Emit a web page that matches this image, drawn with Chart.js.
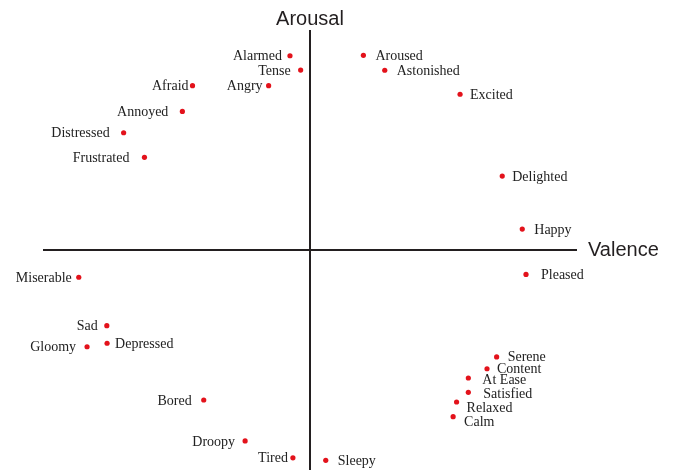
<!DOCTYPE html>
<html>
<head>
<meta charset="utf-8">
<script src="https://cdn.jsdelivr.net/npm/chart.js@4.4.1/dist/chart.umd.min.js"></script>
<style>
  html, body { margin: 0; padding: 0; background: #ffffff; }
  #wrap { width: 674px; height: 470px; position: relative; }
</style>
</head>
<body>
<div id="wrap"><canvas id="c" width="674" height="470"></canvas></div>
<script>
// ---- data ----
const emotions = ["Alarmed","Tense","Angry","Afraid","Annoyed","Distressed","Frustrated",
  "Aroused","Astonished","Excited","Delighted","Happy",
  "Miserable","Sad","Depressed","Gloomy","Bored","Droopy","Tired","Sleepy",
  "Pleased","Serene","Content","At Ease","Satisfied","Relaxed","Calm"];
const valence = [-0.075,-0.035,-0.155,-0.440,-0.478,-0.698,-0.620,
  0.200,0.280,0.562,0.720,0.795,
  -0.866,-0.761,-0.760,-0.835,-0.398,-0.243,-0.064,0.059,
  0.809,0.699,0.663,0.593,0.593,0.549,0.536];
const arousal = [0.883,0.818,0.747,0.747,0.630,0.533,0.421,
  0.885,0.817,0.708,0.336,0.095,
  -0.124,-0.344,-0.424,-0.440,-0.682,-0.868,-0.945,-0.956,
  -0.111,-0.486,-0.540,-0.582,-0.647,-0.691,-0.758];
const xTitle = "Valence";
const yTitle = "Arousal";

// ---- label placement (style) ----
const labelPlace = {
  "Alarmed":[-8,0],"Tense":[-10,0],"Angry":[-6,0],"Afraid":[-4,0],"Annoyed":[-14,0],
  "Distressed":[-14,0],"Frustrated":[-15,0],"Miserable":[-7,0],"Sad":[-9,0],
  "Gloomy":[-11,0],"Bored":[-12,0],"Droopy":[-10,0],"Tired":[-5,0],
  "Aroused":[12,0],"Astonished":[12,0],"Excited":[10,0],"Delighted":[10,0],"Happy":[12,0],
  "Pleased":[15,0],"Serene":[11,0],"Content":[10,0],"At Ease":[14,1],"Satisfied":[15,1],
  "Relaxed":[10,5],"Calm":[11,5],"Sleepy":[12,0],"Depressed":[8,0]
};

const points = emotions.map((e,i)=>({x: valence[i], y: arousal[i]}));

const overlay = {
  id: 'overlay',
  beforeDatasetsDraw(chart) {
    const {ctx, scales:{x, y}} = chart;
    const x0 = x.getPixelForValue(0), y0 = y.getPixelForValue(0);
    ctx.save();
    ctx.strokeStyle = '#231f20';
    ctx.lineWidth = 2;
    ctx.beginPath();
    ctx.moveTo(x.getPixelForValue(-1), y0);
    ctx.lineTo(x.getPixelForValue(1), y0);
    ctx.moveTo(x0, y.getPixelForValue(1));
    ctx.lineTo(x0, y.getPixelForValue(-1));
    ctx.stroke();
    ctx.fillStyle = '#231f20';
    ctx.font = '20px "Liberation Sans", Arial, sans-serif';
    ctx.textBaseline = 'alphabetic';
    ctx.textAlign = 'center';
    ctx.fillText(yTitle, x0, y.getPixelForValue(1) - 5);
    ctx.textAlign = 'left';
    ctx.fillText(xTitle, x.getPixelForValue(1) + 11, y0 + 6.5);
    ctx.restore();
  },
  afterDatasetsDraw(chart) {
    const {ctx} = chart;
    const meta = chart.getDatasetMeta(0);
    ctx.save();
    ctx.fillStyle = '#222222';
    ctx.font = '14px "Liberation Serif", "Times New Roman", serif';
    ctx.textBaseline = 'alphabetic';
    meta.data.forEach((pt, i) => {
      const name = emotions[i];
      const [dx, dy] = labelPlace[name] || [10, 0];
      ctx.textAlign = dx < 0 ? 'right' : 'left';
      ctx.fillText(name, pt.x + dx, pt.y + dy + 4.6);
    });
    ctx.restore();
  }
};

new Chart(document.getElementById('c'), {
  type: 'scatter',
  data: { datasets: [{
    data: points,
    backgroundColor: '#e3121b',
    borderColor: '#e3121b',
    pointRadius: 2.6,
    pointBorderWidth: 0
  }]},
  options: {
    responsive: false,
    animation: false,
    layout: { padding: { left: 43, right: 97, top: 30, bottom: 0 } },
    plugins: { legend: { display: false }, tooltip: { enabled: false } },
    scales: {
      x: { type: 'linear', min: -1, max: 1, display: false },
      y: { type: 'linear', min: -0.982, max: 1, display: false }
    }
  },
  plugins: [overlay]
});
</script>
</body>
</html>
